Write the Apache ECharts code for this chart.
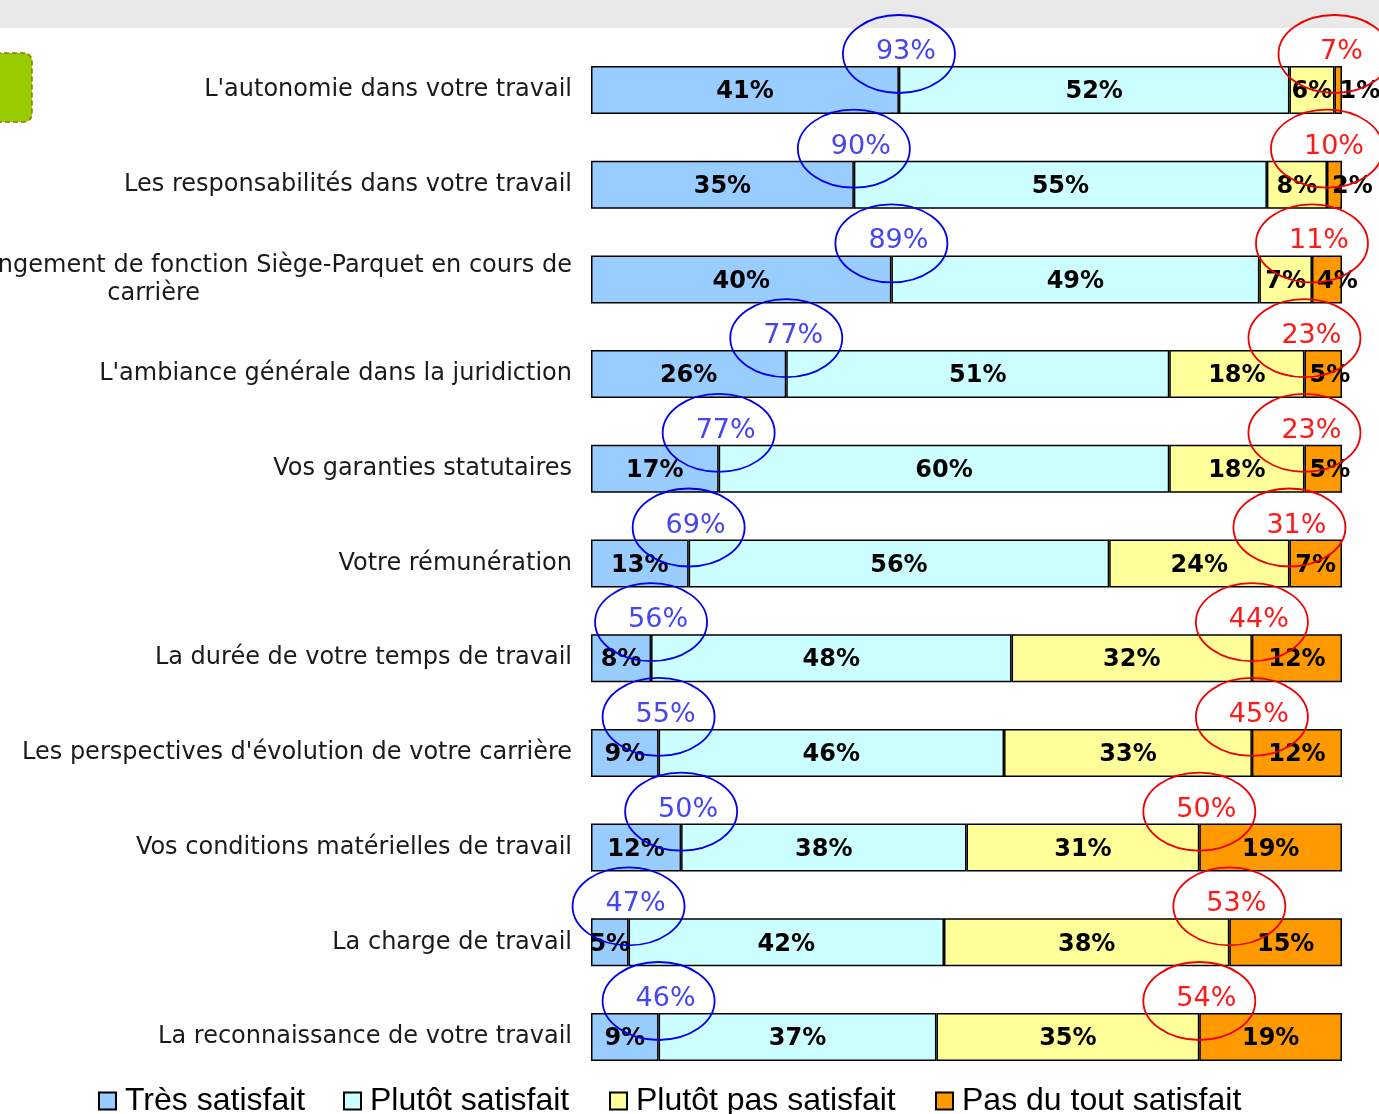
<!DOCTYPE html>
<html>
<head>
<meta charset="utf-8">
<script src="https://cdn.jsdelivr.net/npm/echarts@6/dist/echarts.min.js"></script>
<style>
html, body { margin: 0; padding: 0; background: #fff; }
#chart { width: 1379px; height: 1114px; }
</style>
</head>
<body>
<div id="chart"></div>
<script>
// categories, top to bottom
var categories = [
    "L'autonomie dans votre travail",
    "Les responsabilités dans votre travail",
    "Le changement de fonction Siège-Parquet en cours de carrière",
    "L'ambiance générale dans la juridiction",
    "Vos garanties statutaires",
    "Votre rémunération",
    "La durée de votre temps de travail",
    "Les perspectives d'évolution de votre carrière",
    "Vos conditions matérielles de travail",
    "La charge de travail",
    "La reconnaissance de votre travail"
]
var seriesNames = ["Très satisfait", "Plutôt satisfait", "Plutôt pas satisfait", "Pas du tout satisfait"]
var tresSatisfait = [41, 35, 40, 26, 17, 13, 8, 9, 12, 5, 9]
var plutotSatisfait = [52, 55, 49, 51, 60, 56, 48, 46, 38, 42, 37]
var plutotPasSatisfait = [6, 8, 7, 18, 18, 24, 32, 33, 31, 38, 35]
var pasDuToutSatisfait = [1, 2, 4, 5, 5, 7, 12, 12, 19, 15, 19]
// totals written in the circles
var totalSatisfait = [93, 90, 89, 77, 77, 69, 56, 55, 50, 47, 46]
var totalInsatisfait = [7, 10, 11, 23, 23, 31, 44, 45, 50, 53, 54]

var colors = ['#99ccff', '#ccffff', '#ffff99', '#ff9900']
var legendLeft = [98, 343, 609, 935]

var chart = echarts.init(document.getElementById('chart'))

function barSeries(name, data, color, smallLeft) {
    return {
        name: name,
        type: 'bar',
        stack: 'total',
        barWidth: 48,
        // tiny last segments: label starts at the segment and spills to the right
        data: data.map(function (v) {
            if (smallLeft && v <= 5) return { value: v, label: { position: 'insideLeft' } }
            return v
        }),
        itemStyle: { color: color, borderColor: '#000', borderWidth: 1.5 },
        label: {
            show: true,
            position: 'inside',
            formatter: '{c}%',
            color: '#000',
            fontSize: 24,
            fontWeight: 'bold',
            fontFamily: 'DejaVu Sans',
            textBorderWidth: 0,
            offset: [0, 2]
        }
    }
}

// blue / red ellipses with the totals, placed through the axis scales
function ellipseSeries(name, xs, totals, stroke, textColor) {
    return {
        name: name,
        type: 'custom',
        silent: true,
        z: 10,
        data: xs.map(function (x, i) { return [x, i, totals[i]] }),
        renderItem: function (params, api) {
            var p = api.coord([api.value(0), api.value(1)])
            var cy = p[1] - 36
            return {
                type: 'group',
                children: [
                    { type: 'ellipse', shape: { cx: p[0], cy: cy, rx: 56, ry: 39 },
                      style: { fill: 'none', stroke: stroke, lineWidth: 1.8 } },
                    { type: 'text', style: { text: api.value(2) + '%', x: p[0] + 7, y: cy - 2,
                      align: 'center', verticalAlign: 'middle', font: '27px "DejaVu Sans"', fill: textColor } }
                ]
            }
        }
    }
}

var blueX = tresSatisfait.slice()
var redX = tresSatisfait.map(function (v, i) { return v + plutotSatisfait[i] + plutotPasSatisfait[i] })

var option = {
    animation: false,
    backgroundColor: '#fff',
    graphic: [
        { type: 'rect', shape: { x: 0, y: 0, width: 1379, height: 28 }, style: { fill: '#e9e9e9' } },
        { type: 'rect', shape: { x: -12, y: 53, width: 44, height: 69, r: 8 },
          style: { fill: '#99cc00', stroke: '#8a7a00', lineWidth: 1.5, lineDash: [5, 3] } }
    ],
    legend: seriesNames.map(function (n, i) {
        return {
            data: [n],
            left: legendLeft[i],
            top: 1085,
            padding: 0,
            icon: 'rect',
            itemWidth: 17,
            itemHeight: 17,
            selectedMode: false,
            textStyle: { fontSize: 32, fontFamily: 'Liberation Sans', color: '#000', padding: [0, 0, 0, 4] }
        }
    }),
    grid: { left: 591, right: 37, top: 42.65, bottom: 29.65, containLabel: false, outerBoundsMode: 'none' },
    xAxis: { type: 'value', min: 0, max: 100, show: false },
    yAxis: {
        type: 'category',
        inverse: true,
        data: categories,
        axisLine: { show: false },
        axisTick: { show: false },
        axisLabel: {
            interval: 0,
            margin: 19,
            color: '#1a1a1a',
            fontSize: 24,
            fontFamily: 'DejaVu Sans',
            lineHeight: 28,
            formatter: function (v) {
                if (v.length > 50) {
                    var k = v.lastIndexOf(' ')
                    return '{r|' + v.slice(0, k) + '}\n{r|' + v.slice(k + 1) + '}{g|}'
                }
                return v
            },
            rich: {
                r: { align: 'right', fontSize: 24, fontFamily: 'DejaVu Sans', color: '#1a1a1a', lineHeight: 28 },
                g: { align: 'right', width: 372 }
            }
        }
    },
    series: [
        barSeries(seriesNames[0], tresSatisfait, colors[0]),
        barSeries(seriesNames[1], plutotSatisfait, colors[1]),
        barSeries(seriesNames[2], plutotPasSatisfait, colors[2]),
        barSeries(seriesNames[3], pasDuToutSatisfait, colors[3], true),
        ellipseSeries('sat', blueX, totalSatisfait, '#0000ee', '#4646f0'),
        ellipseSeries('insat', redX, totalInsatisfait, '#ee0000', '#ff1a1a')
    ]
}

chart.setOption(option)
</script>
</body>
</html>
